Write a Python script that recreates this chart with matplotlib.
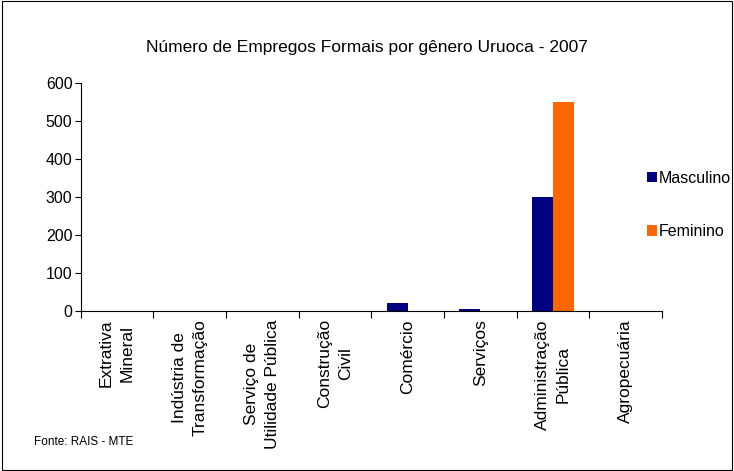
import matplotlib
matplotlib.use("Agg")
import matplotlib.pyplot as plt
import numpy as np
from matplotlib.patches import Rectangle

plt.rcParams['font.family'] = ['Liberation Sans', 'DejaVu Sans']

categories = ["Extrativa\nMineral", "Indústria de\nTransformação", "Serviço de\nUtilidade Pública",
              "Construção\nCivil", "Comércio", "Serviços", "Administração\nPública", "Agropecuária"]
masculino = [0, 0, 0, 0, 20, 5, 300, 0]
feminino = [0, 0, 0, 0, 0, 0, 550, 0]
series_names = ["Masculino", "Feminino"]
colors = ["#000080", "#FF6600"]
yticks = [0, 100, 200, 300, 400, 500, 600]

fig = plt.figure(figsize=(7.34, 4.71), dpi=100)
fig.patches.append(Rectangle((0.003, 0.003), 0.994, 0.994, transform=fig.transFigure,
                             fill=False, edgecolor='black', linewidth=0.8))
ax = fig.add_axes([0.11, 0.34, 0.792, 0.484])

x = np.arange(len(categories))
w = 0.29
ax.bar(x - w/2, masculino, w, color=colors[0], label=series_names[0])
ax.bar(x + w/2, feminino, w, color=colors[1], label=series_names[1])

ax.set_xlim(-0.5, len(categories) - 0.5)
ax.set_ylim(0, 600)
ax.set_yticks(yticks)
ax.set_yticklabels([str(v) for v in yticks], fontsize=11.5)
ax.spines['top'].set_visible(False)
ax.spines['right'].set_visible(False)
ax.spines['left'].set_linewidth(0.8)
ax.spines['bottom'].set_linewidth(0.8)
ax.tick_params(axis='y', direction='out', length=4, width=0.8, pad=2)

ax.set_xticks(x)
ax.set_xticklabels(categories, rotation=90, fontsize=12.5, va='top', ha='center', linespacing=1.5)
ax.tick_params(axis='x', which='major', length=0, pad=6)
ax.set_xticks(np.arange(-0.5, len(categories) + 0.5, 1), minor=True)
ax.tick_params(axis='x', which='minor', direction='out', length=5, width=0.8)

fig.text(0.5, 0.90, "Número de Empregos Formais por gênero Uruoca - 2007", ha='center', va='center', fontsize=12.5)

leg = fig.legend(loc='center left', bbox_to_anchor=(0.862, 0.565), frameon=False, fontsize=11.5,
                 handlelength=0.65, handleheight=0.65, handletextpad=0.1, labelspacing=2.4)

fig.text(0.046, 0.062, "Fonte: RAIS - MTE", fontsize=8.5, ha='left', va='center')

fig.savefig("out.png", dpi=100)
